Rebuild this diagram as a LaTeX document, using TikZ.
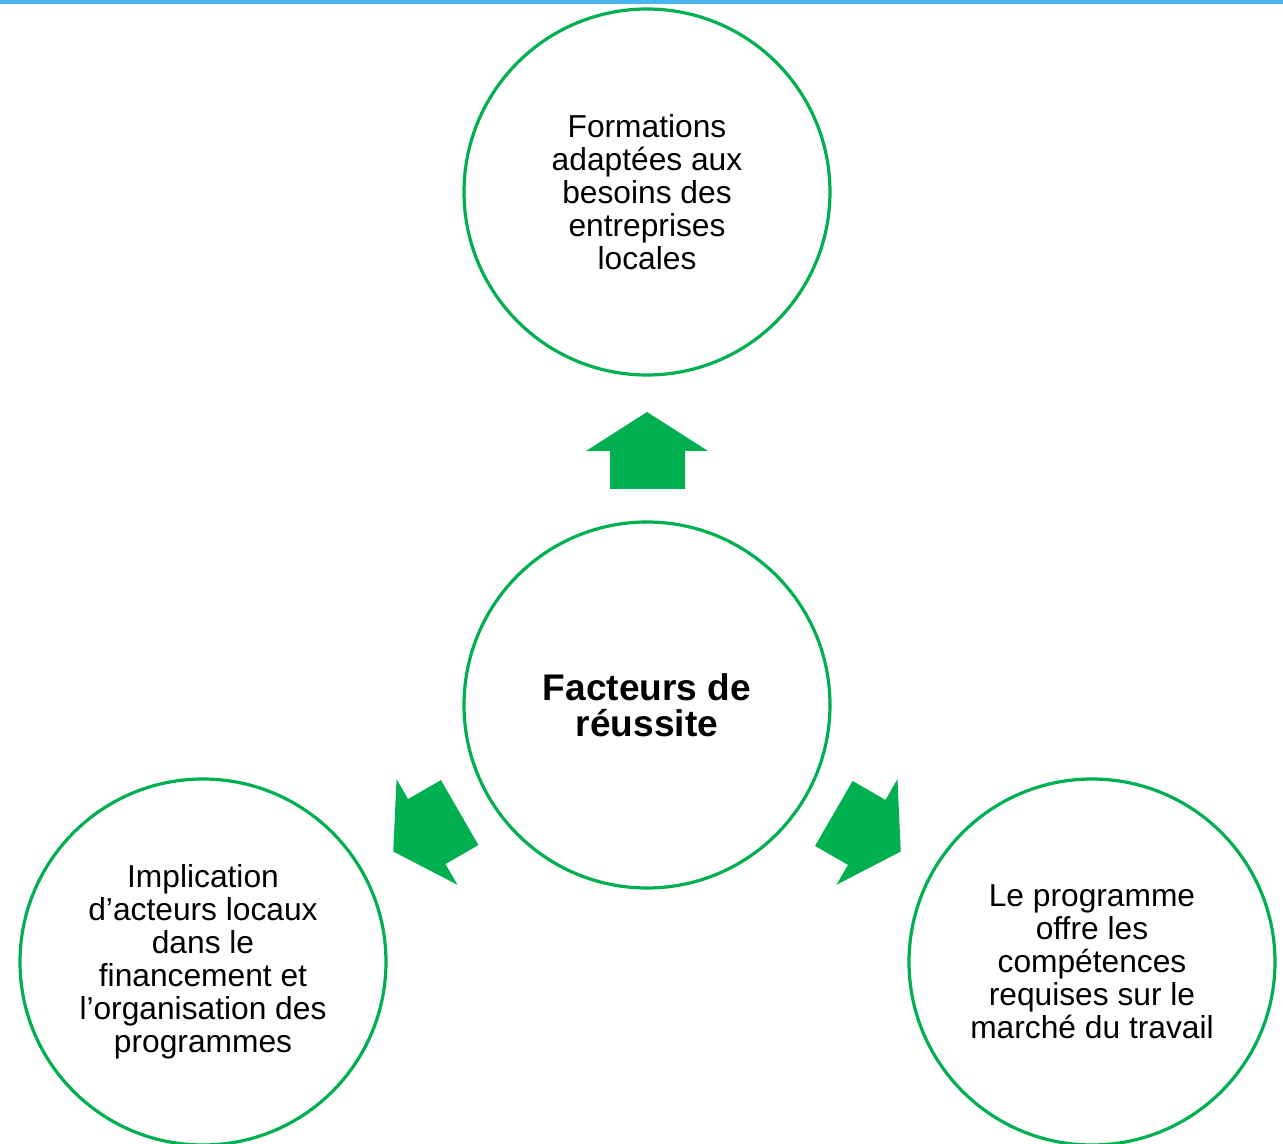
\documentclass[tikz,border=0pt]{standalone}
\usepackage{fontspec}
\setmainfont{Liberation Sans}
\usepackage{xcolor}
\usepackage{tikz}
\usetikzlibrary{shapes,positioning}
\definecolor{vert}{RGB}{0,176,80}
\definecolor{bleu}{RGB}{71,181,238}
\tikzset{circ/.style={circle,draw=vert,line width=2.4pt,minimum size=274.5pt,inner sep=0pt,align=center,font=\fontsize{23.8}{24.8}\selectfont}}
\tikzset{fleche/.style={fill=vert,draw=none}}

\begin{document}
\begin{tikzpicture}[x=0.75pt,y=-0.75pt]
    \useasboundingbox (0,0) rectangle (1283,1144);
    \fill[bleu] (0,0) rectangle (1283,4);

    \node[circ,font=\fontsize{27.8}{27}\selectfont\bfseries] (facteurs)at (647,705) {Facteurs de\\réussite};
    \node[circ] (formations)at (647,192) {Formations\\adaptées aux\\besoins des\\entreprises\\locales};
    \node[circ] (implication)at (203,962) {Implication\\d’acteurs locaux\\dans le\\financement et\\l’organisation des\\programmes};
    \node[circ] (programme)at (1092,962) {Le programme\\offre les\\compétences\\requises sur le\\marché du travail};

    \foreach \a in {0,120,-120}
        \fill[fleche,shift={(facteurs.center)},rotate=\a] (0,-293) -- (61,-254) -- (38,-254) -- (38,-216)
            -- (-37,-216) -- (-37,-254) -- (-61,-254) -- cycle;
\end{tikzpicture}
\end{document}
